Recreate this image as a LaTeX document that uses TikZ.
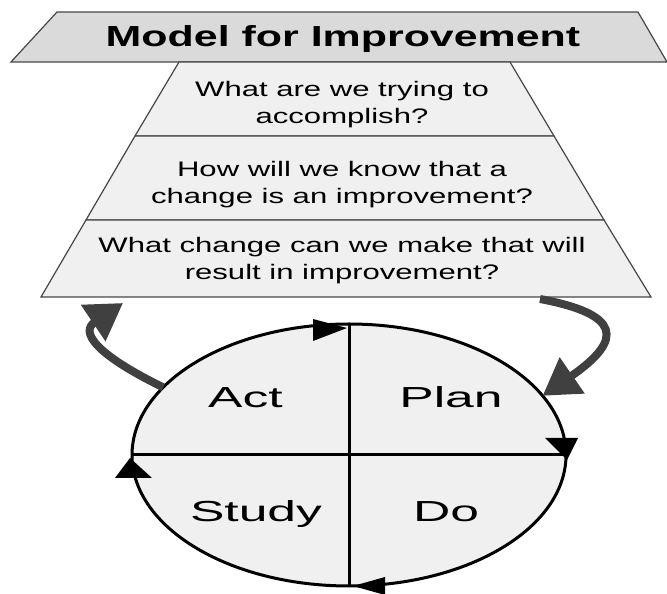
\documentclass[tikz,border=0pt]{standalone}
\usepackage{fontspec}
\setmainfont{Liberation Sans}
\newfontfamily\widesans[FakeStretch=1.48]{Liberation Sans}
\newfontfamily\phasesans[FakeStretch=1.78]{Liberation Sans}
\usetikzlibrary{arrows.meta,shapes.geometric}

\definecolor{bannergray}{RGB}{218,218,218}
\definecolor{panelgray}{RGB}{240,240,240}
\definecolor{edgegray}{RGB}{70,70,70}
\definecolor{loopgray}{RGB}{64,64,64}

\begin{document}
\begin{tikzpicture}[
  x=1pt, y=1pt,
  panel/.style={fill=panelgray, draw=edgegray, line width=1.2pt},
  question/.style={font=\widesans\fontsize{21}{27}\selectfont, align=center, inner sep=0pt},
  phase/.style={font=\phasesans\fontsize{29}{34}\selectfont, anchor=base, inner sep=0pt},
  feedback/.style={draw=loopgray, line width=8pt, -{Triangle[length=36pt, width=42pt]}},
  rim/.style={line width=3pt}
]
\useasboundingbox (0,0) rectangle (667,594);

% banner and the three question panels
\path[panel, fill=bannergray] (57,582) -- (638,582) -- (667,532) -- (11,532) -- cycle;
\path[panel] (179,532) -- (510,532) -- (554,458) -- (135,458) -- cycle;
\path[panel] (135,458) -- (554,458) -- (604,374) -- (86,374) -- cycle;
\path[panel] (86,374) -- (604,374) -- (651,297) -- (41,297) -- cycle;

\node[font=\widesans\fontsize{29}{34}\selectfont\bfseries, anchor=base, inner sep=0pt]
  (title) at (343,547) {Model for Improvement};
\node[question] (aim) at (342,489) {What are we trying to\\accomplish?};
\node[question] (measure) at (342,409.5) {How will we know that a\\change is an improvement?};
\node[question] (change) at (342,333.5) {What change can we make that will\\result in improvement?};

% PDSA cycle
\node[rim, draw, fill=panelgray, ellipse, minimum width=434pt, minimum height=262pt,
      inner sep=0pt, outer sep=0pt] (pdsa) at (349,139) {};
\draw[rim] (pdsa.north) -- (pdsa.south);
\draw[rim] (pdsa.west) -- (pdsa.east);

% clockwise heads on the rim
\fill[shift={(pdsa.north)}] (-2,-4) -- (-36,5) -- (-36,-17) -- cycle;
\fill[shift={(pdsa.east)}] (1,-5) -- (-21,17) -- (12,17) -- cycle;
\fill[shift={(pdsa.south)}] (4,0) -- (36,9) -- (36,-9) -- cycle;
\fill[shift={(pdsa.west)}] (-2,-3) -- (-17,-23) -- (20,-23) -- cycle;

\node[phase] (act) at (245.5,186) {Act};
\node[phase] (plan) at (451,186) {Plan};
\node[phase] (study) at (256,72) {Study};
\node[phase] (do) at (446,72) {Do};

% links between the questions and the cycle
\coordinate (into) at (540,295);
\coordinate (back) at (123,291);
\draw[feedback] (into) .. controls (620,280) and (625,255) .. (pdsa.17);
\draw[feedback] (pdsa.160) .. controls (95,240) and (80,262) .. (back);
\end{tikzpicture}
\end{document}
